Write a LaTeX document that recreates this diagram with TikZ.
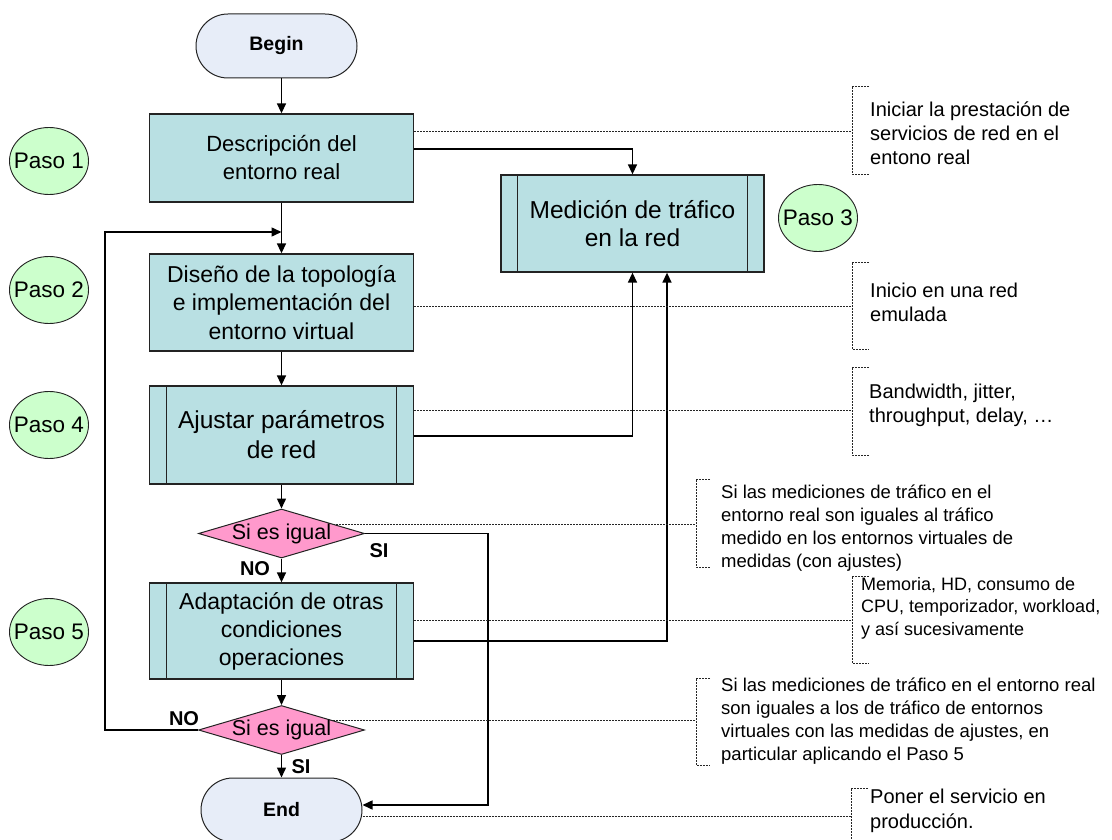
\documentclass[tikz,border=0pt]{standalone}
\usepackage{fontspec}
\setmainfont{Liberation Sans}
\usetikzlibrary{shapes.geometric,arrows.meta,calc}
\definecolor{boxfill}{RGB}{185,224,227}
\definecolor{termfill}{RGB}{231,237,248}
\definecolor{decfill}{RGB}{255,153,204}
\definecolor{pasofill}{RGB}{204,255,204}
\definecolor{edgegray}{RGB}{35,35,35}
% vertical bars that mark a predefined-process box
\newcommand\sidebars[2]{\draw[barline] ([xshift=#2]#1.north west) -- ([xshift=#2]#1.south west) ([xshift=-#2]#1.north east) -- ([xshift=-#2]#1.south east);}
\begin{document}
\begin{tikzpicture}[x=1pt,y=-1pt,
  process/.style={draw=edgegray, line width=1.3pt, fill=boxfill, minimum width=264pt, align=center, inner sep=0pt, font=\fontsize{22}{28}\selectfont},
  terminal/.style={draw=edgegray, line width=1pt, fill=termfill, rounded corners=32pt, minimum width=161pt, minimum height=64pt, inner sep=0pt, font=\fontsize{19.5}{24}\selectfont\bfseries},
  decision/.style={diamond, draw=edgegray, line width=1pt, fill=decfill, minimum width=166pt, minimum height=49pt, inner sep=0pt},
  dectext/.style={font=\fontsize{21.5}{26}\selectfont, inner sep=0pt},
  paso/.style={ellipse, draw=edgegray, line width=0.9pt, fill=pasofill, minimum width=79pt, minimum height=67pt, inner sep=0pt},
  pasotext/.style={inner sep=0pt, font=\fontsize{22.5}{27}\selectfont},
  note/.style={align=left, anchor=west, inner sep=0pt, font=\fontsize{20}{24}\selectfont},
  smallnote/.style={note, font=\fontsize{18.5}{23}\selectfont},
  flow/.style={line width=1.5pt, -{Triangle[length=10pt,width=9pt]}},
  dots/.style={line width=0.9pt, black!85, dash pattern=on 2pt off 1pt},
  barline/.style={line width=1.2pt, edgegray},
  tag/.style={font=\fontsize{20}{24}\selectfont\bfseries, inner sep=0pt}
]
\useasboundingbox (0,0) rectangle (1112,840);

% main column
\node[terminal] (begin) at (276.5,46) {Begin};
\node[process, minimum height=88pt] (desc) at (281.5,158) {Descripción del\\entorno real};
\node[process, minimum height=97pt, font=\fontsize{23}{28.5}\selectfont] (dis) at (281.5,302.5) {Diseño de la topología\\e implementación del\\entorno virtual};
\node[process, minimum height=98pt, font=\fontsize{24.5}{30}\selectfont] (ajus) at (281.5,435) {Ajustar parámetros\\de red};
\sidebars{ajus}{18pt}
\node[decision] (d1) at (281.5,533.5) {};
\node[dectext] (d1t) at (d1) {Si es igual};
\node[process, minimum height=96pt, font=\fontsize{23}{28}\selectfont] (adapt) at (281.5,631) {Adaptación de otras\\condiciones\\operaciones};
\sidebars{adapt}{18pt}
\node[decision] (d2) at (281.5,730) {};
\node[dectext] (d2t) at (d2) {Si es igual};
\node[terminal] (endn) at (281.5,810) {End};

% measurement box
\node[process, minimum width=263pt, minimum height=97pt, font=\fontsize{24.5}{28}\selectfont] (med) at (632.5,223.5) {Medición de tráfico\\en la red};
\sidebars{med}{17pt}

% step markers
\node[paso] (paso1) at (49,161) {};
\node[pasotext] (paso1t) at (paso1) {Paso 1};
\node[paso] (paso2) at (49,290) {};
\node[pasotext] (paso2t) at (paso2) {Paso 2};
\node[paso] (paso3) at (818,218) {};
\node[pasotext] (paso3t) at (paso3) {Paso 3};
\node[paso] (paso4) at (49,425) {};
\node[pasotext] (paso4t) at (paso4) {Paso 4};
\node[paso] (paso5) at (49,632) {};
\node[pasotext] (paso5t) at (paso5) {Paso 5};

% flow connectors
\draw[flow] (desc.north |- begin.south) -- (desc.north);
\draw[flow] (desc.south) -- (dis.north);
\draw[flow] (dis.south) -- (ajus.north);
\draw[flow] (ajus.south) -- (d1.north);
\draw[flow] (d1.south) -- (adapt.north);
\draw[flow] (adapt.south) -- (d2.north);
\draw[flow] (d2.south) -- (endn.north);
\draw[flow] ($(desc.east)+(0,-9)$) -| (med.north);
\draw[flow] ($(ajus.east)+(0,1)$) -| (med.south);
\draw[flow] ($(adapt.east)+(0,10)$) -| ($(med.south)+(34.5,0)$);
\coordinate (siRail) at (488,700);
\draw[flow] (d1.east) -| (siRail) |- ($(endn.east)+(0,-5)$);
\coordinate (loopTop) at (105,232);
\draw[flow] (d2.west) -| (loopTop) -- (loopTop -| desc.south);

% yes / no tags
\node[tag] (si1) at (379,551) {SI};
\node[tag] (no1) at (255,569) {NO};
\node[tag] (no2) at (184,719) {NO};
\node[tag] (si2) at (301,767) {SI};

% annotation brackets
\coordinate (b1) at (852,131);
\draw[dots] (869,86) -- (852,86) -- (852,174) -- (869,174);
\draw[dots] (desc.east |- b1) -- (b1);
\node[note] (n1) at (870,133) {Iniciar la prestación de\\servicios de red en el\\entono real};

\coordinate (b2) at (852,306);
\draw[dots] (869,262) -- (852,262) -- (852,349) -- (869,349);
\draw[dots] (dis.east |- b2) -- (b2);
\node[note] (n2) at (870,302) {Inicio en una red\\emulada};

\coordinate (b3) at (852,410);
\draw[dots] (869,367) -- (852,367) -- (852,455) -- (869,455);
\draw[dots] (ajus.east |- b3) -- (b3);
\node[note] (n3) at (869,405) {Bandwidth, jitter,\\throughput, delay, …};

\coordinate (b4) at (696,524);
\coordinate (d1tap) at ($(d1.east)!0.38!(d1.north)$);
\draw[dots] (710,479) -- (696,479) -- (696,567) -- (710,567);
\draw[dots] (d1tap) -- (d1tap -| b4);
\node[smallnote] (n4) at (721,528) {Si las mediciones de tráfico en el\\entorno real son iguales al tráfico\\medido en los entornos virtuales de\\medidas (con ajustes)};

\coordinate (b5) at (852,620);
\draw[dots] (869,576) -- (852,576) -- (852,663) -- (869,663);
\draw[dots] (adapt.east |- b5) -- (b5);
\node[note, font=\fontsize{18}{22.5}\selectfont] (n5) at (861,608) {Memoria, HD, consumo de\\CPU, temporizador, workload,\\y así sucesivamente};

\coordinate (b6) at (696,722);
\coordinate (d2tap) at ($(d2.east)!0.38!(d2.north)$);
\draw[dots] (710,678) -- (696,678) -- (696,765) -- (710,765);
\draw[dots] (d2tap) -- (d2tap -| b6);
\node[smallnote] (n6) at (721,721) {Si las mediciones de tráfico en el entorno real\\son iguales a los de tráfico de entornos\\virtuales con las medidas de ajustes, en\\particular aplicando el Paso 5};

\coordinate (b7) at (851,816);
\draw[dots] (868,788) -- (851,788) -- (851,850);
\draw[dots] (endn.east |- b7) -- (b7);
\node[note, font=\fontsize{20}{25}\selectfont] (n7) at (870,811) {Poner el servicio en\\producción.};
\end{tikzpicture}
\end{document}
